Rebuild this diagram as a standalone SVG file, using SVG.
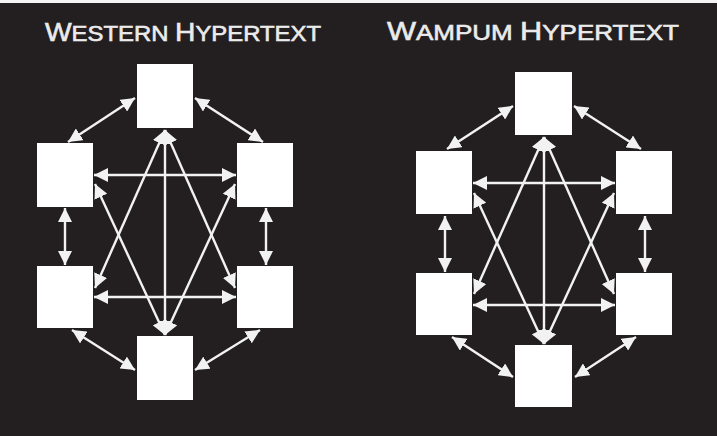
<svg xmlns="http://www.w3.org/2000/svg" width="717" height="436" viewBox="0 0 717 436">
<style>
.bg{fill:#231f20}
.box{fill:#ffffff}
.title{font-family:"Liberation Sans","DejaVu Sans",sans-serif;font-size:22px;fill:#ebebeb;stroke:#ebebeb;stroke-width:0.6}
.big{font-size:26px}
.c line{stroke:#f2f2f2;stroke-width:2.4;marker-start:url(#ah);marker-end:url(#ah)}
</style>
<defs>
<marker id="ah" markerUnits="userSpaceOnUse" markerWidth="14" markerHeight="14" viewBox="0 0 14 14" refX="14" refY="7" orient="auto-start-reverse">
<path d="M0,0 L14,7 L0,14 z" fill="#f2f2f2"/>
</marker>
</defs>
<rect class="bg" x="0" y="0" width="717" height="436"/>
<rect x="0" y="0" width="717" height="3" fill="#f4f4f4"/>

<g id="title-western"><text class="title" x="45" y="41" textLength="276" lengthAdjust="spacingAndGlyphs"><tspan class="big">W</tspan>ESTERN <tspan class="big">H</tspan>YPERTEXT</text></g>
<g id="title-wampum"><text class="title" x="387" y="40" textLength="292" lengthAdjust="spacingAndGlyphs"><tspan class="big">W</tspan>AMPUM <tspan class="big">H</tspan>YPERTEXT</text></g>

<g id="connectors-western" class="c">
<line x1="135" y1="98" x2="68" y2="142"/>
<line x1="195" y1="98" x2="263" y2="142"/>
<line x1="94" y1="175" x2="236" y2="175"/>
<line x1="94" y1="297" x2="236" y2="297"/>
<line x1="65" y1="208" x2="65" y2="265"/>
<line x1="266" y1="208" x2="266" y2="265"/>
<line x1="72" y1="330" x2="135" y2="370"/>
<line x1="260" y1="330" x2="195" y2="370"/>
<line x1="165" y1="130" x2="165" y2="335"/>
<line x1="165" y1="130" x2="95" y2="288"/>
<line x1="165" y1="130" x2="235" y2="288"/>
<line x1="165" y1="335" x2="95" y2="184"/>
<line x1="165" y1="335" x2="235" y2="184"/>
</g>

<g id="connectors-wampum" class="c">
<line x1="513" y1="106" x2="447" y2="149"/>
<line x1="574" y1="106" x2="641" y2="149"/>
<line x1="473" y1="183" x2="615" y2="183"/>
<line x1="473" y1="305" x2="615" y2="305"/>
<line x1="445" y1="216" x2="445" y2="272"/>
<line x1="645" y1="216" x2="645" y2="272"/>
<line x1="452" y1="337" x2="513" y2="377"/>
<line x1="636" y1="337" x2="575" y2="377"/>
<line x1="544" y1="137" x2="544" y2="344"/>
<line x1="544" y1="137" x2="474" y2="294"/>
<line x1="544" y1="137" x2="614" y2="294"/>
<line x1="544" y1="344" x2="474" y2="193"/>
<line x1="544" y1="344" x2="614" y2="193"/>
</g>

<g id="w-top"><rect class="box" x="137" y="64" width="56" height="64"/></g>
<g id="w-left-mid"><rect class="box" x="37" y="143" width="56" height="64"/></g>
<g id="w-right-mid"><rect class="box" x="237" y="143" width="56" height="64"/></g>
<g id="w-left-low"><rect class="box" x="37" y="266" width="56" height="62"/></g>
<g id="w-right-low"><rect class="box" x="237" y="266" width="56" height="62"/></g>
<g id="w-bottom"><rect class="box" x="137" y="336" width="56" height="64"/></g>

<g id="p-top"><rect class="box" x="515" y="72" width="57" height="63"/></g>
<g id="p-left-mid"><rect class="box" x="416" y="151" width="56" height="63"/></g>
<g id="p-right-mid"><rect class="box" x="616" y="151" width="56" height="63"/></g>
<g id="p-left-low"><rect class="box" x="416" y="273" width="56" height="62"/></g>
<g id="p-right-low"><rect class="box" x="616" y="273" width="56" height="62"/></g>
<g id="p-bottom"><rect class="box" x="515" y="345" width="57" height="62"/></g>
</svg>
